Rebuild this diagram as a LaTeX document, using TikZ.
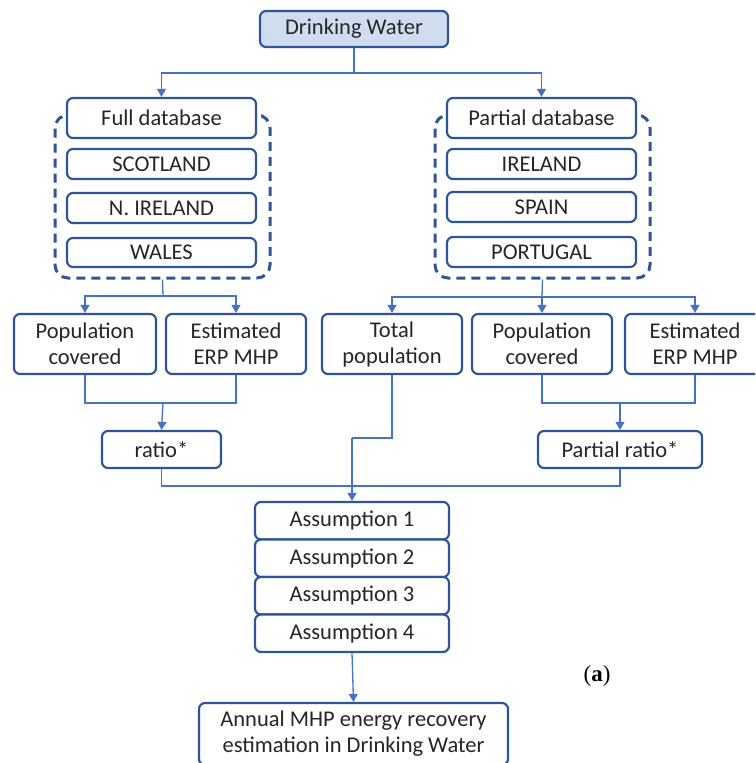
\documentclass[tikz,border=0pt]{standalone}
\usepackage{fontspec}
\setmainfont{Carlito}
\newfontfamily\labfont{Liberation Serif}
\usetikzlibrary{arrows.meta}
\definecolor{boxblue}{HTML}{2F5597}
\definecolor{linkblue}{HTML}{4472C4}
\definecolor{fillblue}{HTML}{D0DDF0}
\definecolor{txt}{HTML}{262626}
\tikzset{
  box/.style={draw=boxblue, line width=2.2pt, rounded corners=6pt, fill=white,
    inner sep=0pt, align=center, text=txt,
    font=\fontsize{22.5}{26}\selectfont},
  grpbox/.style={draw=boxblue, line width=3pt, rounded corners=13pt,
    dash pattern=on 9pt off 6pt, inner sep=0pt},
  conn/.style={draw=linkblue, line width=1.3pt},
  arr/.style={conn, -{Triangle[length=8pt,width=9pt]}}
}
\begin{document}
\begin{tikzpicture}[x=1pt,y=-1pt]
\useasboundingbox (0,0) rectangle (755,763);
\clip (0,0) rectangle (755,763);
% groups
\node[grpbox, minimum width=215, minimum height=163] (grp1) at (162.5,196.5) {};
\node[grpbox, minimum width=215, minimum height=163] (grp2) at (542.5,196.5) {};
% top
\node[box, fill=fillblue, minimum width=188, minimum height=36] (dw) at (354,29) {Drinking Water};
% databases
\node[box, minimum width=189, minimum height=40] (fulldb) at (161.5,118) {Full database};
\node[box, minimum width=189, minimum height=30] (scot) at (161.5,164) {SCOTLAND};
\node[box, minimum width=189, minimum height=30] (nire) at (161.5,208) {N. IRELAND};
\node[box, minimum width=189, minimum height=29] (wales) at (161.5,252.5) {WALES};
\node[box, minimum width=189, minimum height=40] (partdb) at (541.5,118) {Partial database};
\node[box, minimum width=189, minimum height=30] (ire) at (541.5,164) {IRELAND};
\node[box, minimum width=189, minimum height=30] (spain) at (541.5,207) {SPAIN};
\node[box, minimum width=189, minimum height=30] (port) at (541.5,252) {PORTUGAL};
% second level
\node[box, minimum width=142, minimum height=60] (pc1) at (85,344) {Population\\covered};
\node[box, minimum width=140, minimum height=60] (erp1) at (236,344) {Estimated\\ERP MHP};
\node[box, minimum width=140, minimum height=60] (tp) at (392,344) {Total\\population};
\node[box, minimum width=140, minimum height=60] (pc2) at (542,344) {Population\\covered};
\node[box, minimum width=140, minimum height=60] (erp2) at (695,344) {Estimated\\ERP MHP};
% ratios
\node[box, minimum width=119, minimum height=37] (ratio) at (161.5,449.5) {ratio*};
\node[box, minimum width=164, minimum height=37] (pratio) at (620,449.5) {Partial ratio*};
% assumptions
\node[box, minimum width=194, minimum height=37.5] (a1) at (352,520.75) {Assumption 1};
\node[box, minimum width=194, minimum height=37.5] (a2) at (352,558.25) {Assumption 2};
\node[box, minimum width=194, minimum height=37.5] (a3) at (352,595.75) {Assumption 3};
\node[box, minimum width=194, minimum height=37.5] (a4) at (352,633.25) {Assumption 4};
\node[box, minimum width=309, minimum height=62] (final) at (353.5,734) {Annual MHP energy recovery\\estimation in Drinking Water};
\node[text=black, font=\labfont\fontsize{23}{26}\selectfont] (lab) at (597,676) {(\textbf{a})};
% connectors
\coordinate (j1) at (354,73);
\draw[conn] (dw.south) -- (j1);
\draw[arr] (j1) -| (fulldb.north);
\draw[arr] (j1) -| (partdb.north);
\coordinate (j2) at (163,296);
\draw[conn] (grp1.south) -- (j2);
\draw[arr] (j2) -| (pc1.north);
\draw[arr] (j2) -| (erp1.north);
\coordinate (j3) at (542,297);
\draw[conn] (grp2.south) -- (j3);
\draw[arr] (j3) -| (tp.north);
\draw[arr] (j3) -- (pc2.north);
\draw[arr] (j3) -| (erp2.north);
\coordinate (j4) at (163,403);
\draw[conn] (pc1.south) |- (j4);
\draw[conn] (erp1.south) |- (j4);
\draw[arr] (j4) -- (ratio.north);
\coordinate (j5) at (620,403);
\draw[conn] (pc2.south) |- (j5);
\draw[conn] (erp2.south) |- (j5);
\draw[arr] (j5) -- (pratio.north);
\coordinate (j6) at (352,486);
\draw[conn] (ratio.south) |- (j6);
\draw[conn] (pratio.south) |- (j6);
\coordinate (j7) at (352,438);
\draw[conn] (tp.south) |- (j7);
\draw[arr] (j7) -- (a1.north);
\draw[arr] (a4.south) -- (final.north);
\end{tikzpicture}
\end{document}
